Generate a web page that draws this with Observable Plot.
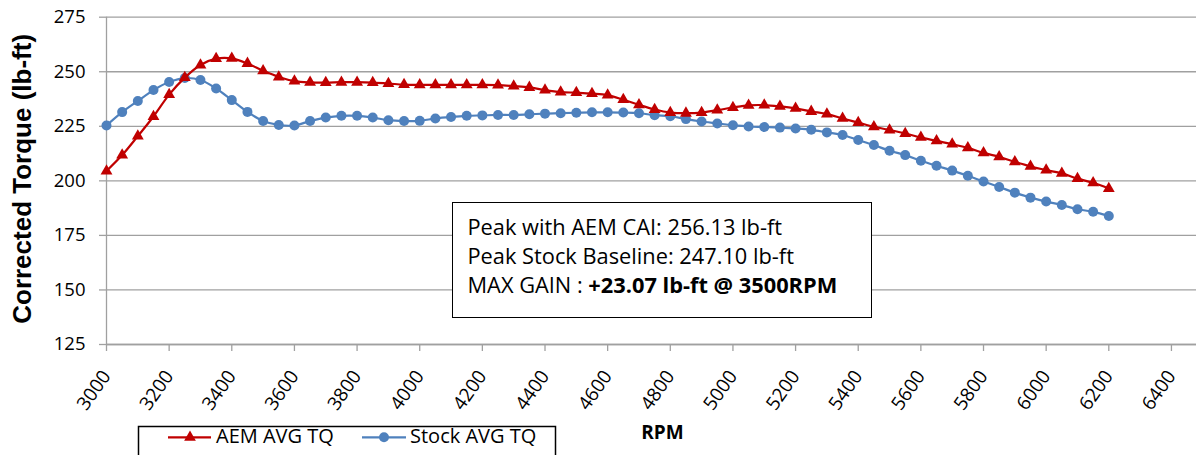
<!DOCTYPE html>
<html>
<head>
<meta charset="utf-8">
<script src="https://cdn.jsdelivr.net/npm/d3@7"></script>
<script src="https://cdn.jsdelivr.net/npm/@observablehq/plot@0.6"></script>
<style>
  html, body { margin: 0; padding: 0; background: #fff; overflow: hidden; }
  #wrap { position: relative; width: 1196px; height: 455px; overflow: hidden; font-family: "Open Sans", sans-serif; }
  #note { position: absolute; left: 452px; top: 202px; width: 420px; height: 116px; box-sizing: border-box;
          border: 1.5px solid #000; background: #fff; padding: 8.5px 0 0 14.5px;
          font-size: 21.8px; line-height: 29px; color: #000; white-space: nowrap; }
  #legend { position: absolute; left: 0; top: 420px; }
</style>
</head>
<body>
<div id="wrap">
  <div id="chart"></div>
  <div id="note">
    <div>Peak with AEM CAI: 256.13 lb-ft</div>
    <div>Peak Stock Baseline: 247.10 lb-ft</div>
    <div>MAX GAIN : <b>+23.07 lb-ft @ 3500RPM</b></div>
  </div>
  <svg id="legend" width="600" height="35"></svg>
</div>
<script>
const rpm = [3000, 3050, 3100, 3150, 3200, 3250, 3300, 3350, 3400, 3450, 3500, 3550, 3600, 3650, 3700, 3750,
  3800, 3850, 3900, 3950, 4000, 4050, 4100, 4150, 4200, 4250, 4300, 4350, 4400, 4450, 4500, 4550,
  4600, 4650, 4700, 4750, 4800, 4850, 4900, 4950, 5000, 5050, 5100, 5150, 5200, 5250, 5300, 5350,
  5400, 5450, 5500, 5550, 5600, 5650, 5700, 5750, 5800, 5850, 5900, 5950, 6000, 6050, 6100, 6150, 6200];

const aemTq = [204.5, 211.8, 220.5, 229.5, 239.5, 247.3, 253.1, 256.0, 256.13, 253.8, 250.47, 247.6, 245.7, 245.1, 245.0, 245.2,
  245.2, 245.0, 244.6, 244.1, 244.0, 244.0, 244.0, 244.0, 244.0, 243.9, 243.4, 242.8, 241.6, 240.7, 240.4, 240.0,
  239.3, 237.2, 234.8, 232.7, 231.3, 231.0, 231.3, 232.4, 233.6, 234.6, 234.7, 234.1, 233.2, 231.8, 230.6, 228.6,
  226.7, 224.8, 223.3, 221.7, 219.9, 218.3, 216.8, 215.1, 212.8, 211.0, 208.7, 206.6, 204.9, 203.4, 201.0, 199.1, 196.5];

const stockTq = [225.4, 231.5, 236.6, 241.6, 245.3, 247.1, 246.2, 242.3, 237.0, 231.6, 227.4, 225.6, 225.4, 227.4, 229.0, 229.8,
  229.8, 229.0, 227.8, 227.4, 227.5, 228.6, 229.3, 229.8, 230.0, 230.2, 230.2, 230.5, 230.8, 231.0, 231.2, 231.4,
  231.4, 231.3, 231.0, 230.1, 229.6, 228.3, 227.2, 226.3, 225.5, 224.9, 224.7, 224.4, 224.0, 223.4, 222.2, 221.0,
  218.7, 216.4, 213.8, 211.8, 209.2, 206.9, 204.7, 202.3, 199.7, 197.2, 194.6, 192.3, 190.5, 188.9, 187.0, 185.8, 183.9];

const xTicks = [3000, 3200, 3400, 3600, 3800, 4000, 4200, 4400, 4600, 4800, 5000, 5200, 5400, 5600, 5800, 6000, 6200, 6400];
const yTicks = [125, 150, 175, 200, 225, 250, 275];

const seriesNames = ["AEM AVG TQ", "Stock AVG TQ"];
const seriesColors = ["#C00000", "#4F81BD"];

const data = rpm.map((r, i) => ({rpm: r, aem: aemTq[i], stock: stockTq[i]}));
const grid = "#a0a0a0";

const chart = Plot.plot({
  width: 1196,
  height: 455,
  marginLeft: 106,
  marginRight: 0,
  marginTop: 16.7,
  marginBottom: 111,
  style: {fontFamily: "Open Sans", background: "white", color: "black"},
  x: {domain: [3000, 6480]},
  y: {domain: [125, 275]},
  marks: [
    Plot.gridY(yTicks, {stroke: grid, strokeOpacity: 1, strokeWidth: 1.3}),
    Plot.ruleX([3000], {stroke: grid, strokeWidth: 1.3}),
    Plot.ruleY([125], {stroke: grid, strokeWidth: 1.3}),
    Plot.axisY(yTicks, {tickSize: 7, tickPadding: 14, fontSize: 18.5, stroke: grid, strokeWidth: 1.3, fill: "black", label: null}),
    Plot.axisX(xTicks, {tickSize: 7, tickPadding: 21, tickRotate: -55, fontSize: 19, stroke: grid, strokeWidth: 1.3, fill: "black",
      label: null, tickFormat: d => String(d)}),
    Plot.line(data, {x: "rpm", y: "stock", stroke: seriesColors[1], strokeWidth: 2.2, curve: "catmull-rom"}),
    Plot.dot(data, {x: "rpm", y: "stock", symbol: "circle", r: 5, fill: seriesColors[1]}),
    Plot.line(data, {x: "rpm", y: "aem", stroke: seriesColors[0], strokeWidth: 2.2, curve: "catmull-rom"}),
    Plot.dot(data, {x: "rpm", y: "aem", symbol: "triangle", r: 4.4, fill: seriesColors[0]}),
    Plot.text(["Corrected Torque (lb-ft)"], {frameAnchor: "left", dx: -84, dy: -2, rotate: -90, fontSize: 26, fontWeight: "bold",
      fontFamily: "Liberation Sans", fill: "black", lineAnchor: "middle", textAnchor: "middle"}),
    Plot.text(["RPM"], {frameAnchor: "bottom", dx: 11, dy: 88, fontSize: 19, fontWeight: "bold", fill: "black", lineAnchor: "middle"})
  ]
});
document.getElementById("chart").appendChild(chart);

// legend
const lg = d3.select("#legend");
lg.append("rect").attr("x", 138.5).attr("y", 6.5).attr("width", 417).attr("height", 40)
  .attr("fill", "white").attr("stroke", "black").attr("stroke-width", 1.5);
const items = [
  {x0: 168, x1: 211, cx: 190, tx: 216, sym: d3.symbolTriangle, size: 60},
  {x0: 362, x1: 406, cx: 384, tx: 410, sym: d3.symbolCircle, size: 78}
];
items.forEach((it, i) => {
  lg.append("line").attr("x1", it.x0).attr("x2", it.x1).attr("y1", 17.3).attr("y2", 17.3)
    .attr("stroke", seriesColors[i]).attr("stroke-width", 2.2);
  lg.append("path").attr("d", d3.symbol(it.sym, it.size)()).attr("transform", `translate(${it.cx},17.3)`)
    .attr("fill", seriesColors[i]);
  lg.append("text").attr("x", it.tx).attr("y", 23).attr("font-family", "Open Sans").attr("font-size", 20)
    .attr("fill", "black").text(seriesNames[i]);
});
</script>
</body>
</html>
